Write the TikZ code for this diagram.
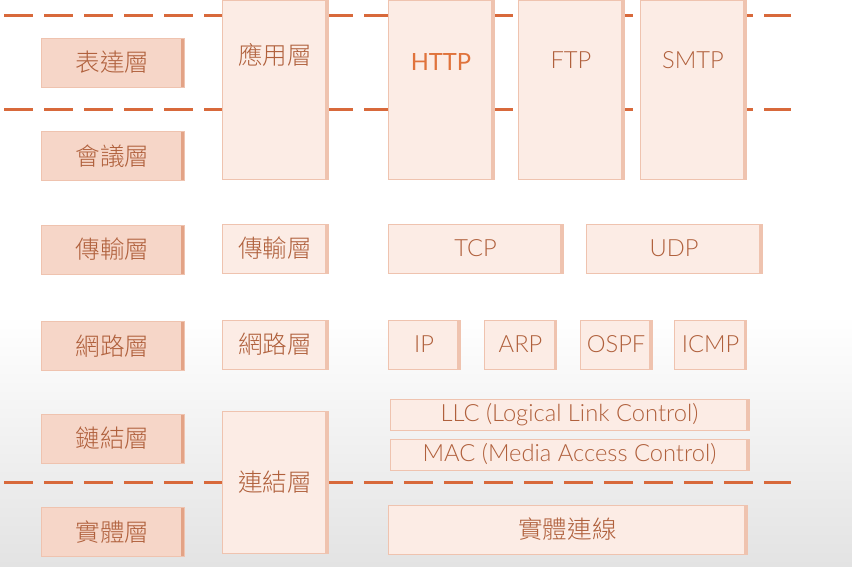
\documentclass[tikz,border=0pt]{standalone}
\usepackage{fontspec}
\setmainfont{Lato}[UprightFont=* Light]
\newfontfamily\cjk{Noto Sans CJK TC}[UprightFont=* Light]
\usepackage{xcolor}
\usetikzlibrary{positioning}
\definecolor{dashorange}{HTML}{D8693B}
\definecolor{boxdark}{HTML}{F6D6C8}
\definecolor{boxlight}{HTML}{FCECE5}
\definecolor{edgedark}{HTML}{E3A386}
\definecolor{edgelight}{HTML}{EFC3AF}
\definecolor{labelbrown}{HTML}{B0603C}
\definecolor{httporange}{HTML}{E0733C}
\tikzset{osi node/.style={rectangle,fill=boxdark,draw=edgelight,line width=0.3pt,
            minimum width=2.86cm,minimum height=0.98cm,inner sep=0pt,text=labelbrown,
            font=\cjk\fontsize{14}{14}\selectfont,
            path picture={\fill[edgedark] ([xshift=-0.07cm]path picture bounding box.north east)
              rectangle (path picture bounding box.south east);}},
         tcpip node/.style={osi node,fill=boxlight,minimum width=2.12cm,
            path picture={\fill[edgelight] ([xshift=-0.06cm]path picture bounding box.north east)
              rectangle (path picture bounding box.south east);}},
         proto node/.style={tcpip node,font=\fontsize{13.5}{13.5}\selectfont},
         box label/.style={inner sep=0pt,text=labelbrown,font=\fontsize{13.5}{13.5}\selectfont},
         layer line/.style={dashorange,line width=0.06cm,dash pattern=on 0.58cm off 0.22cm}
            }

\begin{document}
\begin{tikzpicture}
        \useasboundingbox (0,0) rectangle (17.04,-11.32);
        \fill[white] (0,0) rectangle (17.04,-11.32);
        \shade[top color=white,bottom color=gray!22] (0,-6.3) rectangle (17.04,-11.32);

        % layer borders
        \coordinate (top w) at (0.08,-0.32);
        \coordinate (top e) at (15.82,-0.32);
        \coordinate (mid w) at (0.08,-2.2);
        \coordinate (mid e) at (15.82,-2.2);
        \coordinate (low w) at (0.08,-9.64);
        \coordinate (low e) at (15.82,-9.64);
        \draw[layer line] (top w) -- (top e);
        \draw[layer line] (mid w) -- (mid e);
        \draw[layer line] (low w) -- (low e);

        % OSI
        \node[osi node] (pres) at (2.25,-1.25) {表達層};
        \node[osi node] (sess) [below = 0.88cm of pres] {會議層};
        \node[osi node] (trans) [below = 0.88cm of sess] {傳輸層};
        \node[osi node] (net) [below = 0.94cm of trans] {網路層};
        \node[osi node] (link) [below = 0.86cm of net] {鏈結層};
        \node[osi node] (phys) [below = 0.88cm of link] {實體層};

        % TCP/IP
        \node[tcpip node,minimum height=3.58cm] (app) at (5.5,-1.79) {};
        \node[box label,font=\cjk\fontsize{14}{14}\selectfont] (app text) at ([yshift=-1.1cm]app.north) {應用層};
        \node[tcpip node] (tp trans) at (5.5,-4.97) {傳輸層};
        \node[tcpip node] (tp net) at (5.5,-6.89) {網路層};
        \node[tcpip node,minimum height=2.84cm] (tp link) at (5.5,-9.64) {連結層};

        % protocols
        \node[proto node,minimum height=3.58cm] (http) at (8.82,-1.79) {};
        \node[box label,text=httporange,font=\fontspec{Lato}\fontsize{13.5}{13.5}\selectfont] (http text) at ([yshift=-1.24cm]http.north) {HTTP};
        \node[proto node,minimum height=3.58cm] (ftp) at (11.42,-1.79) {};
        \node[box label] (ftp text) at ([yshift=-1.2cm]ftp.north) {FTP};
        \node[proto node,minimum height=3.58cm] (smtp) at (13.86,-1.79) {};
        \node[box label] (smtp text) at ([yshift=-1.2cm]smtp.north) {SMTP};

        \node[proto node,minimum width=3.5cm] (tcp) at (9.51,-4.97) {TCP};
        \node[proto node,minimum width=3.52cm] (udp) at (13.48,-4.97) {UDP};

        \node[proto node,minimum width=1.44cm] (ip) at (8.48,-6.89) {IP};
        \node[proto node,minimum width=1.44cm] (arp) [right = 0.48cm of ip] {ARP};
        \node[proto node,minimum width=1.44cm] (ospf) [right = 0.46cm of arp] {OSPF};
        \node[proto node,minimum width=1.44cm] (icmp) [right = 0.44cm of ospf] {ICMP};

        \node[proto node,minimum width=7.18cm,minimum height=0.62cm] (llc) at (11.39,-8.29) {LLC (Logical Link Control)};
        \node[proto node,minimum width=7.18cm,minimum height=0.62cm] (mac) at (11.39,-9.09) {MAC (Media Access Control)};
        \node[tcpip node,minimum width=7.18cm] (wire) at (11.35,-10.59) {實體連線};
      \end{tikzpicture}
\end{document}
